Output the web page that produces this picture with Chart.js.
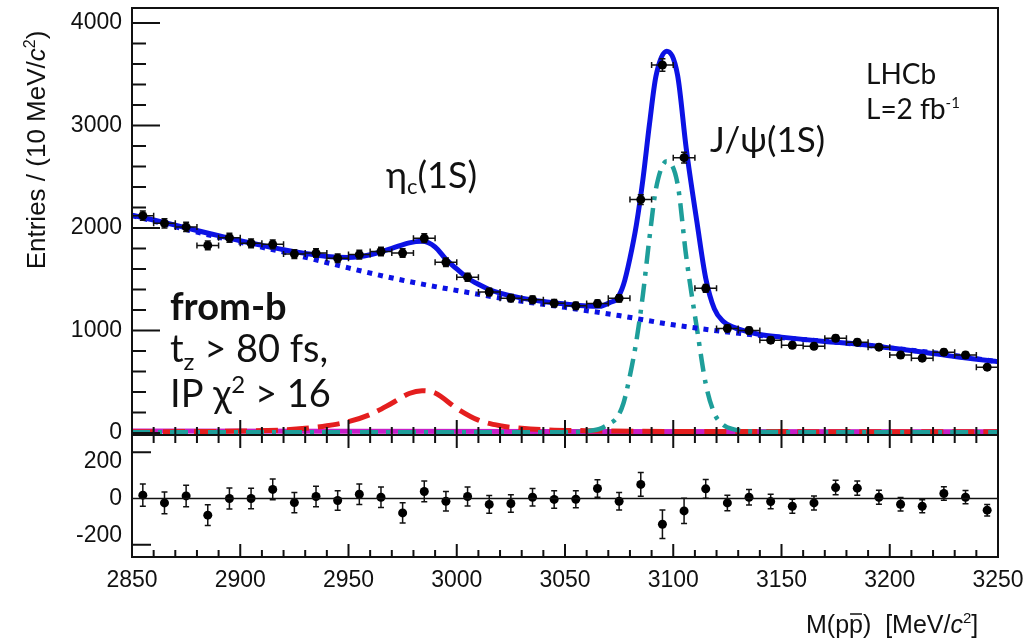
<!DOCTYPE html>
<html>
<head>
<meta charset="utf-8">
<script src="https://cdn.jsdelivr.net/npm/chart.js@4.4.1/dist/chart.umd.min.js"></script>
<style>
    body { margin: 0; background: #fff; }
    #wrap { position: relative; width: 1035px; height: 640px; }
    #topChart { position: absolute; left: 0; top: 0; }
    #resChart { position: absolute; left: 0; top: 425px; }
</style>
</head>
<body>
<div id="wrap">
    <canvas id="topChart" width="1035" height="445"></canvas>
    <canvas id="resChart" width="1035" height="215"></canvas>
</div>
<script>
// bin centres, M(p pbar) in MeV/c^2 (10 MeV bins)
var binCentres = [2855, 2865, 2875, 2885, 2895, 2905, 2915, 2925, 2935, 2945,
                  2955, 2965, 2975, 2985, 2995, 3005, 3015, 3025, 3035, 3045,
                  3055, 3065, 3075, 3085, 3095, 3105, 3115, 3125, 3135, 3145,
                  3155, 3165, 3175, 3185, 3195, 3205, 3215, 3225, 3235, 3245];
// entries per bin and their errors
var entries = [2120, 2045, 2010, 1830, 1905, 1850, 1840, 1745, 1755, 1705,
               1740, 1770, 1755, 1900, 1665, 1520, 1375, 1315, 1300, 1265,
               1240, 1262, 1313, 2277, 3590, 2686, 1411, 1020, 1000, 905,
               856, 846, 924, 885, 837, 760, 730, 788, 760, 642];
var entryErr = [46, 45, 45, 43, 44, 43, 43, 42, 42, 41, 42, 42, 42, 43, 41, 39, 37, 36, 36, 36,
                35, 36, 36, 48, 60, 52, 38, 32, 32, 30, 29, 29, 30, 30, 29, 28, 27, 28, 28, 25];
// residuals (data - fit) for the lower panel
var residuals = [18, -24, 14, -90, 0, 0, 49, -22, 11, -11, 23, 7, -78, 38, -15, 11, -32, -27, 7, -5,
                 -4, 54, -15, 76, -139, -67, 52, -24, 7, -16, -42, -24, 59, 56, 7, -31, -42, 27, 7, -63];
var residualErr = [60, 59, 58, 56, 57, 56, 56, 55, 55, 53, 55, 55, 55, 56, 53, 51, 48, 47, 47, 47,
                   46, 47, 47, 64, 77, 68, 50, 42, 42, 39, 38, 38, 39, 39, 38, 36, 35, 36, 36, 31];

// total fit
var fitX = [2850, 2860, 2870, 2880, 2890, 2900, 2910, 2920, 2930, 2940, 2950, 2960, 2970, 2978, 2984,
            2990, 2995, 3000, 3005, 3010, 3015, 3020, 3030, 3040, 3050, 3060, 3066, 3071, 3074, 3077,
            3080, 3083, 3086, 3089, 3092, 3097, 3102, 3106, 3111, 3115, 3119, 3123, 3128, 3135, 3140,
            3150, 3170, 3185, 3200, 3215, 3230, 3250];
var fitY = [2125, 2078, 2028, 1975, 1925, 1875, 1830, 1788, 1752, 1722, 1712, 1738, 1800, 1855, 1870,
            1815, 1695, 1600, 1512, 1450, 1400, 1365, 1315, 1282, 1258, 1238, 1235, 1275, 1310, 1445,
            1705, 2035, 2475, 3010, 3480, 3725, 3490, 2775, 2050, 1510, 1210, 1090, 1030, 985, 960,
            935, 893, 868, 830, 790, 745, 695];
// combinatorial background
var bkgX = [2850, 2875, 2900, 2925, 2950, 2975, 3000, 3025, 3050, 3075, 3100, 3125, 3150, 3175, 3200, 3225, 3250];
var bkgY = [2120, 1985, 1860, 1740, 1610, 1490, 1390, 1300, 1225, 1145, 1055, 985, 930, 885, 830, 770, 695];
// eta_c(1S) component
var etacX = [2850, 2880, 2900, 2920, 2930, 2940, 2950, 2960, 2970, 2978, 2984, 2990, 3000, 3010, 3020,
             3030, 3040, 3060, 3100, 3250];
var etacY = [12, 14, 18, 30, 45, 70, 110, 180, 290, 385, 412, 390, 240, 125, 70, 45, 32, 22, 15, 12];
// J/psi(1S) component
var jpsiX = [2850, 3050, 3060, 3066, 3070, 3074, 3077, 3080, 3083, 3086, 3089, 3092, 3097, 3102, 3106,
             3111, 3115, 3119, 3123, 3128, 3135, 3150, 3250];
var jpsiY = [6, 8, 18, 40, 85, 150, 290, 560, 900, 1350, 1900, 2380, 2650, 2430, 1720,
             1010, 480, 190, 80, 35, 15, 8, 6];
// other small component along the baseline
var otherX = [2850, 3250];
var otherY = [18, 12];

var entryTicks = [0, 1000, 2000, 3000, 4000];
var residualTicks = [-200, 0, 200];
var massTicks = [2850, 2900, 2950, 3000, 3050, 3100, 3150, 3200, 3250];

var TEXT_FONT = "Lato, 'DejaVu Sans', sans-serif";
var AXIS_FONT = "'Liberation Sans', Arial, sans-serif";

function points(xs, ys) {
    return xs.map(function (x, i) { return { x: x, y: ys[i] }; });
}

// draws pieces of text one after another (sub/superscripts, italics)
function drawRuns(ctx, x, y, runs) {
    runs.forEach(function (r) {
        ctx.font = r.font;
        ctx.fillText(r.t, x, y + (r.dy || 0));
        x += ctx.measureText(r.t).width;
    });
    return x;
}

function runsWidth(ctx, runs) {
    var w = 0;
    runs.forEach(function (r) {
        ctx.font = r.font;
        w += ctx.measureText(r.t).width;
    });
    return w;
}

function makeErrorBars(values, errors, halfWidth) {
    return {
        id: 'errbars',
        beforeDatasetDraw: function (chart, args) {
            if (args.index !== 0) return;
            var ctx = chart.ctx, xs = chart.scales.x, ys = chart.scales.y;
            ctx.save();
            ctx.strokeStyle = '#111';
            ctx.lineWidth = 1.5;
            ctx.beginPath();
            binCentres.forEach(function (m, i) {
                var px = xs.getPixelForValue(m);
                var py = ys.getPixelForValue(values[i]);
                var pTop = ys.getPixelForValue(values[i] + errors[i]);
                var pBot = ys.getPixelForValue(values[i] - errors[i]);
                ctx.moveTo(px, pTop); ctx.lineTo(px, pBot);
                ctx.moveTo(px - 3, pTop); ctx.lineTo(px + 3, pTop);
                ctx.moveTo(px - 3, pBot); ctx.lineTo(px + 3, pBot);
                if (halfWidth) {
                    var pl = xs.getPixelForValue(m - halfWidth);
                    var pr = xs.getPixelForValue(m + halfWidth);
                    ctx.moveTo(pl, py); ctx.lineTo(pr, py);
                    ctx.moveTo(pl, py - 3); ctx.lineTo(pl, py + 3);
                    ctx.moveTo(pr, py - 3); ctx.lineTo(pr, py + 3);
                }
            });
            ctx.stroke();
            ctx.restore();
        }
    };
}

var topDecor = {
    id: 'topDecor',
    afterDraw: function (chart) {
        var ctx = chart.ctx, a = chart.chartArea, xs = chart.scales.x, ys = chart.scales.y;
        ctx.save();
        ctx.strokeStyle = '#111';
        ctx.lineWidth = 2;
        ctx.strokeRect(a.left, a.top, a.right - a.left, a.bottom - a.top);
        ctx.beginPath();
        for (var v = 0; v <= 4000; v += 200) {
            var py = ys.getPixelForValue(v);
            ctx.moveTo(a.left, py);
            ctx.lineTo(a.left + (v % 1000 === 0 ? 28 : 14), py);
        }
        for (var m = 2850; m <= 3250; m += 10) {
            var px = xs.getPixelForValue(m);
            ctx.moveTo(px, a.bottom);
            ctx.lineTo(px, a.bottom - (m % 50 === 0 ? 15 : 8));
        }
        ctx.stroke();

        ctx.fillStyle = '#111';
        ctx.textBaseline = 'alphabetic';
        ctx.textAlign = 'left';
        var f35 = '36px ' + TEXT_FONT;
        drawRuns(ctx, 386, 188, [
            { t: 'η', font: f35 }, { t: 'c', font: '22px ' + TEXT_FONT, dy: 6 }, { t: '(1S)', font: f35 }
        ]);
        drawRuns(ctx, 710, 152, [{ t: 'J/ψ(1S)', font: '35px ' + TEXT_FONT }]);
        drawRuns(ctx, 866, 84, [{ t: 'LHCb', font: '28px ' + TEXT_FONT }]);
        drawRuns(ctx, 866, 119, [
            { t: 'L=2 fb', font: '28px ' + TEXT_FONT }, { t: '-1', font: '15px ' + TEXT_FONT, dy: -11 }
        ]);
        var f38 = '38px ' + TEXT_FONT;
        drawRuns(ctx, 170, 320, [{ t: 'from-b', font: 'bold 38px ' + TEXT_FONT }]);
        drawRuns(ctx, 170, 362, [
            { t: 't', font: f38 }, { t: 'z', font: '24px ' + TEXT_FONT, dy: 8 }, { t: ' > 80 fs,', font: f38 }
        ]);
        drawRuns(ctx, 170, 407, [
            { t: 'IP χ', font: f38 }, { t: '2', font: '24px ' + TEXT_FONT, dy: -14 }, { t: ' > 16', font: f38 }
        ]);

        // y axis title
        var title = [
            { t: 'Entries / (10 MeV/', font: '26px ' + AXIS_FONT },
            { t: 'c', font: 'italic 26px ' + AXIS_FONT },
            { t: '2', font: '16px ' + AXIS_FONT, dy: -10 },
            { t: ')', font: '26px ' + AXIS_FONT }
        ];
        ctx.fillStyle = '#111';
        ctx.translate(45, 150);
        ctx.rotate(-Math.PI / 2);
        drawRuns(ctx, -runsWidth(ctx, title) / 2, 0, title);
        ctx.restore();
    }
};

var resDecor = {
    id: 'resDecor',
    afterDraw: function (chart) {
        var ctx = chart.ctx, a = chart.chartArea, xs = chart.scales.x, ys = chart.scales.y;
        ctx.save();
        ctx.strokeStyle = '#111';
        ctx.lineWidth = 2;
        ctx.strokeRect(a.left, a.top, a.right - a.left, a.bottom - a.top);
        ctx.beginPath();
        for (var m = 2850; m <= 3250; m += 10) {
            var px = xs.getPixelForValue(m);
            var major = m % 50 === 0;
            ctx.moveTo(px, a.top); ctx.lineTo(px, a.top + (major ? 13 : 8));
            ctx.moveTo(px, a.bottom); ctx.lineTo(px, a.bottom - (major ? 13 : 7));
        }
        [-250, 250].forEach(function (v) {
            var py = ys.getPixelForValue(v);
            ctx.moveTo(a.left, py); ctx.lineTo(a.left + 19, py);
        });
        ctx.stroke();
        ctx.lineWidth = 1.5;
        ctx.beginPath();
        var y0 = ys.getPixelForValue(0);
        ctx.moveTo(a.left, y0); ctx.lineTo(a.right, y0);
        ctx.stroke();

        // x axis title M(p pbar) [MeV/c^2]
        var f = '25px ' + AXIS_FONT;
        ctx.fillStyle = '#111';
        ctx.textBaseline = 'alphabetic';
        var x = drawRuns(ctx, 806, 208, [{ t: 'M(p', font: f }]);
        ctx.font = f;
        var pw = ctx.measureText('p').width;
        ctx.fillText('p', x, 208);
        ctx.lineWidth = 1.5;
        ctx.strokeStyle = '#111';
        ctx.beginPath();
        ctx.moveTo(x + 1, 189); ctx.lineTo(x + pw - 1, 189);
        ctx.stroke();
        drawRuns(ctx, x + pw, 208, [
            { t: ')  [MeV/', font: f },
            { t: 'c', font: 'italic 25px ' + AXIS_FONT },
            { t: '2', font: '15px ' + AXIS_FONT, dy: -10 },
            { t: ']', font: f }
        ]);
        ctx.restore();
    }
};

function lineSet(xs, ys, color, width, dash) {
    return {
        type: 'line',
        data: points(xs, ys),
        borderColor: color,
        borderWidth: width,
        borderDash: dash,
        pointRadius: 0,
        fill: false,
        cubicInterpolationMode: 'monotone'
    };
}

var tickFont = { family: AXIS_FONT, size: 23 };

new Chart(document.getElementById('topChart'), {
    type: 'scatter',
    data: {
        datasets: [
            {
                data: points(binCentres, entries),
                pointRadius: 4.5,
                pointBackgroundColor: '#000',
                pointBorderWidth: 0
            },
            lineSet(fitX, fitY, '#0c12e4', 5, []),
            lineSet(bkgX, bkgY, '#0c12e4', 5, [5, 6]),
            lineSet(jpsiX, jpsiY, '#1e9e9a', 4.5, [18, 8, 4, 8]),
            lineSet(etacX, etacY, '#e41e1e', 5, [22, 9]),
            lineSet(otherX, otherY, '#c81ec8', 5, [])
        ]
    },
    options: {
        responsive: false,
        animation: false,
        layout: { padding: { left: 0, top: 8, right: 37, bottom: 10 } },
        plugins: { legend: { display: false }, tooltip: { enabled: false } },
        scales: {
            x: { type: 'linear', min: 2850, max: 3250, display: false },
            y: {
                min: -20, max: 4146,
                grid: { display: false, drawTicks: false },
                border: { display: false },
                ticks: { padding: 10, font: tickFont, color: '#111', callback: function (v) { return String(v); } },
                afterBuildTicks: function (s) { s.ticks = entryTicks.map(function (v) { return { value: v }; }); },
                afterFit: function (s) { s.width = 132; s.paddingTop = 0; s.paddingBottom = 0; }
            }
        }
    },
    plugins: [makeErrorBars(entries, entryErr, 5), topDecor]
});

new Chart(document.getElementById('resChart'), {
    type: 'scatter',
    data: {
        datasets: [{
            data: points(binCentres, residuals),
            pointRadius: 4.5,
            pointBackgroundColor: '#000',
            pointBorderWidth: 0
        }]
    },
    options: {
        responsive: false,
        animation: false,
        layout: { padding: { left: 0, top: 10, right: 37, bottom: 43 } },
        plugins: { legend: { display: false }, tooltip: { enabled: false } },
        scales: {
            x: {
                type: 'linear', min: 2850, max: 3250,
                grid: { display: false, drawTicks: false },
                border: { display: false },
                ticks: { padding: 10, font: tickFont, color: '#111', maxRotation: 0, callback: function (v) { return String(v); } },
                afterBuildTicks: function (s) { s.ticks = massTicks.map(function (v) { return { value: v }; }); },
                afterFit: function (s) { s.height = 40; s.paddingLeft = 0; s.paddingRight = 0; }
            },
            y: {
                min: -316, max: 343,
                grid: { display: false, drawTicks: false },
                border: { display: false },
                ticks: { padding: 10, font: tickFont, color: '#111', callback: function (v) { return String(v); } },
                afterBuildTicks: function (s) { s.ticks = residualTicks.map(function (v) { return { value: v }; }); },
                afterFit: function (s) { s.width = 132; s.paddingTop = 0; s.paddingBottom = 0; }
            }
        }
    },
    plugins: [makeErrorBars(residuals, residualErr, 0), resDecor]
});
</script>
</body>
</html>
